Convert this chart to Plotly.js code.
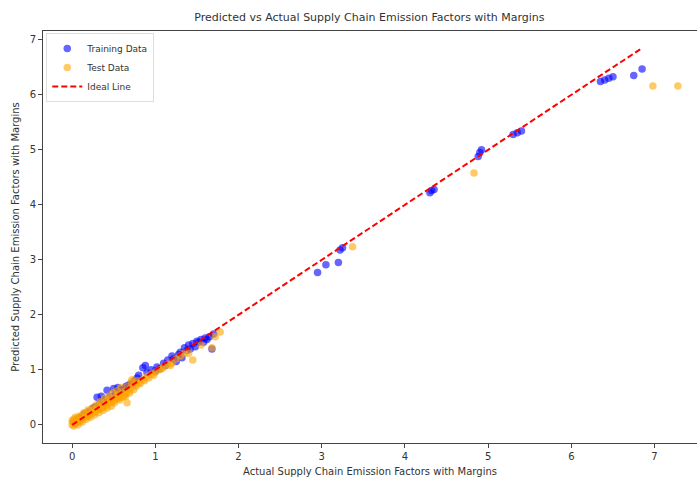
<!DOCTYPE html>
<html><head><meta charset="utf-8">
<script src="https://cdn.plot.ly/plotly-3.0.1.min.js"></script>
<style>html,body{margin:0;padding:0;background:#fff}#chart{width:697px;height:484px}</style>
</head><body><div id="chart"></div>
<script>
const trainActual = [0.02,0.04,0.06,0.08,0.1,0.12,0.15,0.18,0.2,0.22,0.25,0.28,0.3,0.33,0.35,0.38,0.4,0.42,0.45,0.48,0.5,0.52,0.55,0.58,0.6,0.63,0.65,0.68,0.7,0.73,0.75,0.78,0.8,0.85,0.88,0.9,0.95,1.0,1.02,1.05,1.1,1.12,1.15,1.2,1.22,1.25,1.28,1.3,1.32,1.35,1.38,1.4,1.42,1.45,1.48,1.5,1.52,1.55,1.58,1.6,1.62,1.65,1.68,1.7,2.95,3.05,3.2,3.22,3.25,4.3,4.32,4.35,4.88,4.9,4.92,5.3,5.35,5.4,6.35,6.4,6.45,6.5,6.75,6.85];
const trainPred = [0.05,0.03,0.1,0.07,0.12,0.15,0.2,0.16,0.24,0.25,0.3,0.33,0.5,0.38,0.52,0.42,0.45,0.63,0.5,0.52,0.66,0.55,0.68,0.62,0.64,0.66,0.7,0.72,0.74,0.76,0.8,0.85,0.9,1.04,1.08,0.95,1.0,0.98,1.05,1.02,1.12,1.08,1.18,1.25,1.2,1.15,1.28,1.32,1.22,1.4,1.35,1.45,1.38,1.48,1.42,1.52,1.5,1.55,1.5,1.58,1.55,1.6,1.38,1.65,2.77,2.91,2.95,3.18,3.22,4.22,4.26,4.28,4.88,4.95,5.0,5.28,5.31,5.34,6.24,6.27,6.3,6.33,6.35,6.47];
const testActual = [0.0,0.01,0.02,0.03,0.05,0.06,0.08,0.1,0.11,0.13,0.15,0.16,0.18,0.2,0.21,0.23,0.25,0.26,0.28,0.3,0.31,0.33,0.35,0.36,0.38,0.4,0.41,0.43,0.45,0.46,0.48,0.5,0.52,0.53,0.55,0.56,0.58,0.6,0.62,0.63,0.65,0.66,0.68,0.7,0.72,0.75,0.78,0.8,0.85,0.9,0.95,1.0,1.05,1.1,1.15,1.2,1.3,1.35,1.45,1.55,1.68,1.72,1.78,3.37,4.83,6.98,7.28,
  0.0,0.02,0.04,0.07,0.09,0.12,0.14,0.17,0.19,0.22,0.24,0.27,0.29,0.32,0.34,0.37,0.39,0.42,0.44,0.47,0.49,0.51,0.54,0.57,0.59,0.61,0.64,0.67,0.69,0.71,0.74,0.77,0.82,0.87,0.92,0.98,1.08,1.18,1.25,1.4];
const testPred = [0.0,0.05,0.1,0.02,0.04,0.12,0.06,0.08,0.15,0.1,0.14,0.2,0.15,0.17,0.25,0.2,0.22,0.28,0.24,0.27,0.34,0.29,0.3,0.38,0.33,0.35,0.44,0.38,0.4,0.48,0.42,0.44,0.5,0.47,0.48,0.56,0.5,0.52,0.6,0.55,0.58,0.4,0.62,0.66,0.82,0.72,0.8,0.76,0.82,0.88,0.92,0.96,1.0,1.05,1.1,1.12,1.25,1.3,1.18,1.45,1.4,1.6,1.69,3.24,4.58,6.16,6.16,
  0.08,-0.02,0.14,0.0,0.16,0.05,0.22,0.1,0.27,0.14,0.3,0.18,0.36,0.22,0.42,0.26,0.48,0.3,0.52,0.34,0.58,0.4,0.62,0.45,0.68,0.5,0.52,0.7,0.58,0.78,0.64,0.7,0.75,0.8,0.85,0.9,1.02,1.08,1.2,1.3];
const idealLine = [0, 6.85];

const traces = [
  {x: trainActual, y: trainPred, mode: 'markers', type: 'scatter', name: 'Training Data',
   marker: {color: 'rgba(0,0,255,0.6)', size: 7.5, line: {width: 0}}},
  {x: testActual, y: testPred, mode: 'markers', type: 'scatter', name: 'Test Data',
   marker: {color: 'rgba(255,165,0,0.6)', size: 7.5, line: {width: 0}}},
  {x: idealLine, y: idealLine, mode: 'lines', type: 'scatter', name: 'Ideal Line',
   line: {color: 'red', width: 2, dash: '6px,3px'}}
];

const layout = {
  width: 697, height: 484,
  margin: {l: 43, r: 0, t: 31, b: 41},
  paper_bgcolor: '#fff', plot_bgcolor: '#fff',
  font: {family: 'DejaVu Sans, sans-serif', size: 10, color: '#333'},
  title: {text: 'Predicted vs Actual Supply Chain Emission Factors with Margins',
          font: {size: 11, color: '#333'}, x: 0.53, xanchor: 'center', y: 0.965, yanchor: 'middle'},
  xaxis: {range: [-0.35, 7.51], tickvals: [0,1,2,3,4,5,6,7], showgrid: false, zeroline: false,
          showline: true, linecolor: '#444', linewidth: 1, mirror: true,
          ticks: 'outside', ticklen: 4, tickcolor: '#444',
          title: {text: 'Actual Supply Chain Emission Factors with Margins', font: {size: 10}, standoff: 6}},
  yaxis: {range: [-0.33, 7.16], tickvals: [0,1,2,3,4,5,6,7], showgrid: false, zeroline: false,
          showline: true, linecolor: '#444', linewidth: 1,
          ticks: 'outside', ticklen: 4, tickcolor: '#444',
          title: {text: 'Predicted Supply Chain Emission Factors with Margins', font: {size: 10}, standoff: 8}},
  legend: {x: 0.005, y: 0.995, xanchor: 'left', yanchor: 'top', bgcolor: 'rgba(255,255,255,0.8)',
           bordercolor: '#ddd', borderwidth: 1, font: {size: 9, color: '#333'}, itemwidth: 30,
           tracegroupgap: 0},
  showlegend: true
};
Plotly.newPlot('chart', traces, layout, {displayModeBar: false, staticPlot: true});
</script></body></html>
